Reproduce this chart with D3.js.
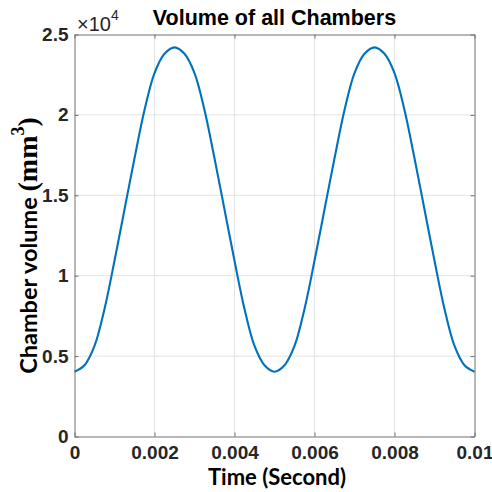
<!DOCTYPE html>
<html>
<head>
<meta charset="utf-8">
<script src="https://cdn.jsdelivr.net/npm/d3@7"></script>
<style>
  html, body { margin: 0; padding: 0; background: #fff; }
  svg { display: block; }
</style>
</head>
<body>
<svg id="chart" width="492" height="492"></svg>
<script>
// ---- data ----
const timeValues = [
  0, 0.00025, 0.0005, 0.00075, 0.001, 0.00125, 0.0015, 0.00175, 0.002, 0.00225,
  0.0025, 0.00275, 0.003, 0.00325, 0.0035, 0.00375, 0.004, 0.00425, 0.0045, 0.00475,
  0.005, 0.00525, 0.0055, 0.00575, 0.006, 0.00625, 0.0065, 0.00675, 0.007, 0.00725,
  0.0075, 0.00775, 0.008, 0.00825, 0.0085, 0.00875, 0.009, 0.00925, 0.0095, 0.00975,
  0.01
];
const volumeValues = [
  4030, 4430, 5630, 7930, 10930, 14115, 17300, 20300, 22600, 23800,
  24200, 23800, 22600, 20300, 17300, 14115, 10930, 7930, 5630, 4430,
  4030, 4430, 5630, 7930, 10930, 14115, 17300, 20300, 22600, 23800,
  24200, 23800, 22600, 20300, 17300, 14115, 10930, 7930, 5630, 4430,
  4030
];
const xTicks = [0, 0.002, 0.004, 0.006, 0.008, 0.01];
const xTickLabels = ["0", "0.002", "0.004", "0.006", "0.008", "0.01"];
const yTicks = [0, 5000, 10000, 15000, 20000, 25000];
const yTickLabels = ["0", "0.5", "1", "1.5", "2", "2.5"];
const titleText = "Volume of all Chambers";
const xLabelText = "Time (Second)";
const yLabelMain = "Chamber volume ";
const yLabelUnit = "(mm";
const yLabelSup = "3";
const yLabelEnd = ")";

// ---- layout ----
const svg = d3.select("#chart");
const pL = 74.5, pR = 474.5, pT = 34.5, pB = 436.5;

const x = d3.scaleLinear().domain([0, 0.01]).range([pL, pR]);
const y = d3.scaleLinear().domain([0, 25000]).range([pB, pT]);

svg.append("rect").attr("width", 492).attr("height", 492).attr("fill", "#fff");

// grid
const grid = svg.append("g").attr("stroke", "#e3e3e3").attr("stroke-width", 1);
grid.selectAll("line.gx").data(xTicks.slice(1, -1)).join("line")
  .attr("x1", d => x(d)).attr("x2", d => x(d))
  .attr("y1", pT).attr("y2", pB);
grid.selectAll("line.gy").data(yTicks.slice(1, -1)).join("line")
  .attr("y1", d => y(d)).attr("y2", d => y(d))
  .attr("x1", pL).attr("x2", pR);

// line
const line = d3.line()
  .x((d, i) => x(timeValues[i]))
  .y(d => y(d))
  .curve(d3.curveCatmullRom.alpha(0.5));
svg.append("path")
  .datum(volumeValues)
  .attr("fill", "none")
  .attr("stroke", "#0072BD")
  .attr("stroke-width", 2.1)
  .attr("d", line);

// axes
const axisColor = "#707070";
const tickFont = "'Liberation Sans', Arial, sans-serif";
function styleAxis(g, showLabels) {
  g.select(".domain").attr("stroke", axisColor).attr("stroke-width", 1);
  g.selectAll(".tick line").attr("stroke", axisColor);
  g.selectAll(".tick text")
    .attr("fill", "#262626")
    .style("font-family", tickFont)
    .style("font-weight", "bold")
    .style("font-size", "19px")
    .style("display", showLabels ? null : "none");
}

const xAxisB = d3.axisBottom(x).tickValues(xTicks)
  .tickFormat((d, i) => xTickLabels[i]).tickSizeInner(-4).tickSizeOuter(0).tickPadding(9);
const xAxisT = d3.axisTop(x).tickValues(xTicks).tickFormat("").tickSizeInner(-4).tickSizeOuter(0);
const yAxisL = d3.axisLeft(y).tickValues(yTicks)
  .tickFormat((d, i) => yTickLabels[i]).tickSizeInner(-4).tickSizeOuter(0).tickPadding(6);
const yAxisR = d3.axisRight(y).tickValues(yTicks).tickFormat("").tickSizeInner(-4).tickSizeOuter(0);

svg.append("g").attr("transform", `translate(0,${pB})`).call(xAxisB).call(g => styleAxis(g, true));
svg.append("g").attr("transform", `translate(0,${pT})`).call(xAxisT).call(g => styleAxis(g, false));
svg.append("g").attr("transform", `translate(${pL},0)`).call(yAxisL).call(g => styleAxis(g, true));
svg.append("g").attr("transform", `translate(${pR},0)`).call(yAxisR).call(g => styleAxis(g, false));

// exponent label
const expo = svg.append("text")
  .attr("x", 77).attr("y", 30.5)
  .attr("fill", "#262626")
  .style("font-family", tickFont)
  .style("font-size", "20px");
expo.append("tspan").text("\u00D710");
expo.append("tspan").attr("dy", -11).style("font-size", "14px").text("4");

// title
svg.append("text")
  .attr("x", 274.5).attr("y", 25)
  .attr("text-anchor", "middle")
  .attr("fill", "#000")
  .style("font-family", tickFont)
  .style("font-weight", "bold")
  .style("font-size", "21.5px")
  .text(titleText);

// x label
svg.append("text")
  .attr("x", 277).attr("y", 485)
  .attr("text-anchor", "middle")
  .attr("fill", "#000")
  .style("font-family", "Lato, 'Open Sans', sans-serif")
  .style("font-weight", "bold")
  .style("font-size", "22px")
  .text(xLabelText);

// y label
const yl = svg.append("text")
  .attr("transform", "translate(36.5,245.5) rotate(-90)")
  .attr("text-anchor", "middle")
  .attr("fill", "#000")
  .style("font-family", "Lato, 'Open Sans', sans-serif")
  .style("font-weight", "bold")
  .style("font-size", "23.5px");
yl.append("tspan").text(yLabelMain);
yl.append("tspan").style("font-family", "'Liberation Serif', 'Times New Roman', serif")
  .style("font-size", "28px").text(yLabelUnit);
yl.append("tspan").attr("dy", -13).style("font-family", "'Liberation Serif', serif")
  .style("font-size", "18px").text(yLabelSup);
yl.append("tspan").attr("dy", 13).style("font-family", "'Liberation Serif', serif")
  .style("font-size", "28px").text(yLabelEnd);
</script>
</body>
</html>
